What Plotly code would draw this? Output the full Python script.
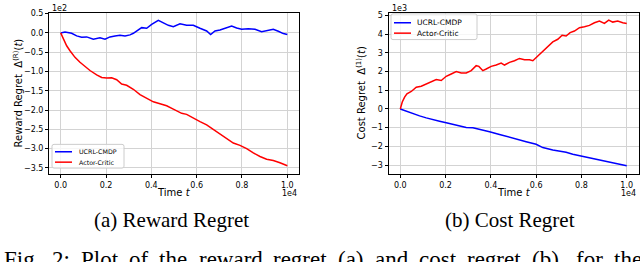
import plotly.graph_objects as go

# ---------------- data ----------------
# (a) reward regret, time steps and regret values
t_ucrl_reward = [0, 190, 484, 705, 925, 1146, 1440, 1734, 1955, 2175, 2396, 2617, 2838, 3058,
                 3205, 3426, 3573, 3794, 4014, 4308, 4529, 4750, 4970, 5264, 5558, 5852, 6146,
                 6441, 6617, 6809, 7029, 7323, 7544, 7765, 7985, 8279, 8573, 8867, 9088, 9382,
                 9603, 9823, 10000]
ucrl_reward = [0, 2.6, -0.9, -7.7, -11.1, -10.3, -16.2, -12.8, -16.2, -10.3, -7.7, -6.0, -7.7, -5.1,
               -0.9, 7.7, 13.7, 12.0, 22.2, 32.5, 26.5, 19.7, 16.2, 23.9, 19.7, 19.7, 12.0,
               5.1, -4.3, 5.1, 7.7, 14.5, 18.0, 12.8, 9.4, 11.1, 9.4, 3.4, 6.8, 9.4,
               4.3, -1.7, -4.3]

t_ac_reward = [0, 59, 146, 263, 410, 631, 851, 1072, 1293, 1587, 1808, 2028, 2249, 2470, 2690,
               2911, 3205, 3499, 3793, 4088, 4382, 4676, 4970, 5338, 5558, 5853, 6147, 6441,
               6735, 7029, 7323, 7618, 7912, 8206, 8500, 8794, 9088, 9382, 9676, 10000]
ac_reward = [0, -7.7, -20.5, -33.3, -46.2, -63.3, -76.1, -87.2, -97.5, -108.6, -115.4, -117.1,
             -116.3, -121.4, -132.5, -135.9, -146.2, -159.9, -170.1, -178.7, -183.8, -189.0,
             -197.5, -208.6, -211.2, -221.4, -230.0, -238.5, -249.7, -262.5, -272.7, -285.6,
             -291.6, -300.1, -311.2, -320.6, -327.5, -330.9, -336.9, -344.6]

# (b) cost regret
t_ucrl_cost = [0, 265, 559, 853, 1147, 1441, 1735, 2029, 2324, 2618, 2912, 3206, 3500, 3794,
               3941, 4382, 4676, 4971, 5265, 5559, 6000, 6294, 6735, 7324, 7618, 8059, 8500,
               9088, 9529, 10000]
ucrl_cost = [0, -124, -247, -371, -477, -548, -654, -742, -830, -901, -990, -1007, -1078, -1184,
             -1219, -1361, -1467, -1573, -1643, -1749, -1891, -2067, -2191, -2315, -2421, -2544,
             -2668, -2810, -2916, -3039]

t_ac_cost = [0, 88, 191, 294, 485, 706, 926, 1147, 1368, 1588, 1809, 2029, 2250, 2471, 2691,
             2912, 3132, 3353, 3471, 3647, 3794, 4015, 4235, 4456, 4603, 4824, 5044, 5265,
             5485, 5706, 5853, 6074, 6294, 6515, 6735, 6956, 7147, 7324, 7500, 7691, 7912,
             8132, 8353, 8574, 8794, 9015, 9206, 9382, 9603, 9824, 10000]
ac_cost = [0, 371, 636, 813, 936, 1166, 1219, 1343, 1431, 1573, 1520, 1749, 1873, 1997, 1926,
           1926, 2050, 2315, 2279, 2050, 2138, 2279, 2350, 2456, 2350, 2491, 2580, 2704,
           2633, 2633, 2580, 2845, 3110, 3375, 3587, 3728, 3940, 3905, 4082, 4170, 4347,
           4400, 4470, 4612, 4700, 4577, 4753, 4647, 4700, 4612, 4577]

series_names = ["UCRL-CMDP", "Actor-Critic"]
series_colors = ["#0000ff", "#ff0000"]

x_tickvals = [0, 2000, 4000, 6000, 8000, 10000]
x_ticktext = ["0.0", "0.2", "0.4", "0.6", "0.8", "1.0"]
y1_tickvals = [50, 0, -50, -100, -150, -200, -250, -300, -350]
y1_ticktext = ["0.5", "0.0", "\u22120.5", "\u22121.0", "\u22121.5", "\u22122.0", "\u22122.5",
               "\u22123.0", "\u22123.5"]
y2_tickvals = [5000, 4000, 3000, 2000, 1000, 0, -1000, -2000, -3000]
y2_ticktext = ["5", "4", "3", "2", "1", "0", "\u22121", "\u22122", "\u22123"]

caption_words = ["Fig.", "2:", "Plot", "of", "the", "reward", "regret", "(a)", "and", "cost",
                 "regret", "(b),", "for", "the"]

# ---------------- figure ----------------
W, H = 640, 262


def px(x):
    return x / W


def py(y):
    return 1 - y / H


fig = go.Figure()
fig.add_trace(go.Scatter(x=t_ucrl_reward, y=ucrl_reward, mode="lines", xaxis="x", yaxis="y",
                         line=dict(color=series_colors[0], width=1.5), name=series_names[0]))
fig.add_trace(go.Scatter(x=t_ac_reward, y=ac_reward, mode="lines", xaxis="x", yaxis="y",
                         line=dict(color=series_colors[1], width=1.5), name=series_names[1]))
fig.add_trace(go.Scatter(x=t_ucrl_cost, y=ucrl_cost, mode="lines", xaxis="x2", yaxis="y2",
                         line=dict(color=series_colors[0], width=1.5), name=series_names[0]))
fig.add_trace(go.Scatter(x=t_ac_cost, y=ac_cost, mode="lines", xaxis="x2", yaxis="y2",
                         line=dict(color=series_colors[1], width=1.5), name=series_names[1]))

tickfont = dict(family="DejaVu Sans", size=8, color="black")
common = dict(showline=True, mirror=True, linecolor="black", linewidth=1, ticks="outside",
              ticklen=3, tickwidth=1, tickcolor="black", showgrid=True, gridcolor="#d3d3d3",
              gridwidth=1, zeroline=False, tickfont=tickfont)

fig.update_layout(
    width=W, height=H, margin=dict(l=0, r=0, t=0, b=0),
    paper_bgcolor="white", plot_bgcolor="white", showlegend=False,
    xaxis=dict(domain=[px(49), px(299)], range=[-516, 10516], anchor="y",
               tickvals=x_tickvals, ticktext=x_ticktext, **common),
    yaxis=dict(domain=[py(173), py(10)], range=[-366, 52], anchor="x",
               tickvals=y1_tickvals, ticktext=y1_ticktext, **common),
    xaxis2=dict(domain=[px(388.5), px(638.5)], range=[-520, 10520], anchor="y2",
                tickvals=x_tickvals, ticktext=x_ticktext, **common),
    yaxis2=dict(domain=[py(173), py(10)], range=[-3480, 5140], anchor="x2",
                tickvals=y2_tickvals, ticktext=y2_ticktext, **common),
)

ann = []
shapes = []


def text(x, y, s, size, family="DejaVu Sans", xanchor="center", yanchor="middle", angle=0):
    ann.append(dict(x=px(x), y=py(y), xref="paper", yref="paper", text=s, showarrow=False,
                    xanchor=xanchor, yanchor=yanchor, textangle=angle,
                    font=dict(family=family, size=size, color="black")))


# exponent labels
text(50, 5.5, "1e2", 8, xanchor="left")
text(299, 192.5, "1e4", 8, xanchor="right")
text(390, 5.5, "1e3", 8, xanchor="left")
text(638, 192.5, "1e4", 8, xanchor="right")

# axis titles
text(174, 192, "Time <i>t</i>", 10)
text(514, 192, "Time <i>t</i>", 10)
text(18, 91.5, "Reward Regret\u00a0\u00a0\u0394<sup>(R)</sup>(<i>t</i>)", 10, angle=-90)
text(361, 91.5, "Cost Regret\u00a0\u00a0\u0394<sup>(1)</sup>(<i>t</i>)", 10, angle=-90)


# legends (drawn manually to match matplotlib style)
def rounded_box(x0, y0, x1, y1, r=2):
    X0, X1 = px(x0), px(x1)
    Y0, Y1 = py(y0), py(y1)
    rx, ry = r / W, r / H
    path = (f"M{X0 + rx},{Y0} L{X1 - rx},{Y0} Q{X1},{Y0} {X1},{Y0 - ry} "
            f"L{X1},{Y1 + ry} Q{X1},{Y1} {X1 - rx},{Y1} L{X0 + rx},{Y1} "
            f"Q{X0},{Y1} {X0},{Y1 + ry} L{X0},{Y0 - ry} Q{X0},{Y0} {X0 + rx},{Y0} Z")
    shapes.append(dict(type="path", path=path, xref="paper", yref="paper",
                       line=dict(color="#cccccc", width=1), fillcolor="rgba(255,255,255,0.8)"))


def legend(box, rows, line_x, text_x, size):
    rounded_box(*box)
    for (yy, name, col) in rows:
        shapes.append(dict(type="line", xref="paper", yref="paper", x0=px(line_x[0]), x1=px(line_x[1]),
                           y0=py(yy), y1=py(yy), line=dict(color=col, width=1.5)))
        text(text_x, yy, name, size, xanchor="left")


legend((52, 143, 124, 167), [(150.5, series_names[0], series_colors[0]),
                             (161, series_names[1], series_colors[1])], (55, 72), 77, 6.3)
legend((391, 11, 477, 37), [(20, series_names[0], series_colors[0]),
                            (30.5, series_names[1], series_colors[1])], (394, 411), 415, 7.5)

# sub-captions
text(171, 219.5, "(a) Reward Regret", 21, family="Liberation Serif")
text(510, 219.5, "(b) Cost Regret", 21, family="Liberation Serif")

# figure caption (justified words, cut by the bottom edge)
word_x = [2, 49.6, 78.6, 126.9, 157.2, 196.5, 271.4, 336.2, 372.8, 417.2, 465.4, 530.2, 574, 612]
for w, x in zip(caption_words, word_x):
    text(x, 259, w, 23, family="Liberation Serif", xanchor="left")

fig.update_layout(annotations=ann, shapes=shapes)
fig.write_html("out.html", config={"displayModeBar": False},
               post_script="document.body.style.margin='0px';document.body.style.overflow='hidden';")
